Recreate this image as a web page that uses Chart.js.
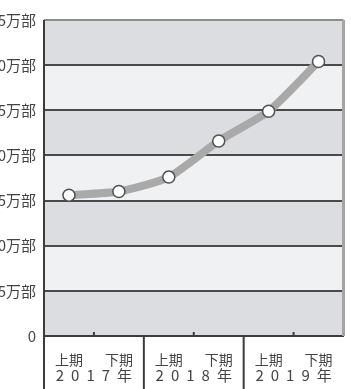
<!DOCTYPE html>
<html>
<head>
<meta charset="utf-8">
<script src="https://cdn.jsdelivr.net/npm/chart.js@4"></script>
<style>
html, body { margin: 0; padding: 0; background: #fff; overflow: hidden; width: 351px; height: 389px; }
#wrap { position: absolute; left: -40px; top: 0; width: 391px; height: 389px; }
</style>
</head>
<body>
<div id="wrap"><canvas id="myChart"></canvas></div>
<script>
const periods = ['上期', '下期', '上期', '下期', '上期', '下期'];
const years = ['2017年', '2018年', '2019年'];
const sales = [15.6, 16.0, 17.6, 21.6, 24.9, 30.4];
const yMin = 0, yMax = 35, yStep = 5;

const FONT = '"Noto Sans CJK JP", "Noto Sans", sans-serif';

function line(ctx, x1, y1, x2, y2) {
  ctx.beginPath();
  ctx.moveTo(x1, y1);
  ctx.lineTo(x2, y2);
  ctx.stroke();
}

// alternating grey bands behind the plot
const bands = {
  id: 'bands',
  beforeDraw(chart) {
    const { ctx, chartArea: a, scales: { y } } = chart;
    ctx.save();
    for (let v = yMin; v < yMax; v += yStep) {
      const top = y.getPixelForValue(v + yStep);
      const bot = y.getPixelForValue(v);
      ctx.fillStyle = ((v / yStep) % 2 === 0) ? '#dcdde0' : '#f0f1f3';
      ctx.fillRect(a.left, top, a.right - a.left, bot - top);
    }
    ctx.restore();
  }
};

// frame, year separators and year labels
const frame = {
  id: 'frame',
  afterDraw(chart) {
    const { ctx, chartArea: a, scales: { x } } = chart;
    const h = chart.height;
    ctx.save();
    ctx.strokeStyle = '#3c3c3c';
    ctx.lineWidth = 2;
    line(ctx, a.left, a.top, a.left, h);
    const half = (x.getPixelForValue(1) - x.getPixelForValue(0)) / 2;
    for (let i = 1; i < periods.length; i++) {
      const px = x.getPixelForValue(i) - half;
      if (i % 2 === 0) line(ctx, px, a.bottom, px, h);
      else line(ctx, px, a.bottom, px, a.bottom - 4);
    }
    ctx.strokeStyle = '#a4a4a4';
    ctx.lineWidth = 3;
    line(ctx, a.right, a.top, a.right, a.bottom);

    ctx.fillStyle = '#444';
    ctx.font = '15px ' + FONT;
    ctx.letterSpacing = '7px';
    ctx.textBaseline = 'middle';
    ctx.textAlign = 'left';
    years.forEach((yr, j) => {
      const cx = (x.getPixelForValue(2 * j) + x.getPixelForValue(2 * j + 1)) / 2;
      const w = ctx.measureText(yr).width - 7;
      ctx.fillText(yr, cx - w / 2, a.bottom + 39);
    });
    ctx.restore();
  }
};

const ctx = document.querySelector('#myChart');

const graphData = {
  type: 'line',
  data: {
    labels: periods,
    datasets: [{
      data: sales,
      borderColor: '#a9a9a9',
      borderWidth: 8,
      tension: 0.2,
      pointRadius: 6,
      pointBackgroundColor: '#fff',
      pointBorderColor: '#505050',
      pointBorderWidth: 1.5,
      clip: false
    }]
  },
  options: {
    responsive: true,
    maintainAspectRatio: false,
    animation: false,
    layout: { padding: { top: 20, right: 6, left: 0, bottom: 0 } },
    plugins: { legend: { display: false }, tooltip: { enabled: false } },
    scales: {
      x: {
        offset: true,
        grid: { display: false },
        border: { display: true, color: '#3c3c3c', width: 2 },
        ticks: { color: '#444', font: { size: 14, family: FONT }, padding: 7, maxRotation: 0, autoSkip: false },
        afterFit: s => { s.height = 53; }
      },
      y: {
        min: yMin,
        max: yMax,
        border: { display: false },
        grid: {
          drawTicks: false,
          lineWidth: 2,
          color: c => c.tick && c.tick.value === yMax ? '#8c8c8c' : '#4a4a4a'
        },
        ticks: {
          stepSize: yStep,
          color: '#444',
          padding: 8,
          font: { size: 15, family: FONT },
          callback: v => v === 0 ? '0' : v + '万部'
        },
        afterFit: s => { s.width = 84; }
      }
    }
  },
  plugins: [bands, frame]
};

const myChart = new Chart(ctx, graphData);
</script>
</body>
</html>
